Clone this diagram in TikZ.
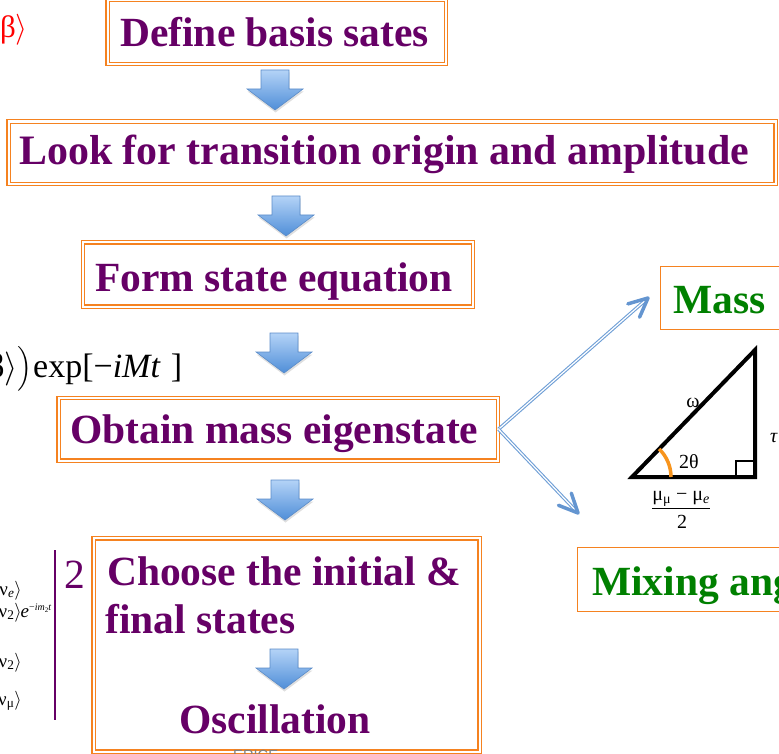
\documentclass[tikz,border=0pt]{standalone}
\usepackage{fix-cm}
\usepackage{amsmath}
\usepackage{fontspec}
\setmainfont{Liberation Serif}
\newfontfamily\ericesans{Liberation Sans}
\usetikzlibrary{calc,shadows}
\definecolor{purp}{HTML}{660066}
\definecolor{boxorange}{HTML}{F58220}
\definecolor{mgreen}{HTML}{008000}
\definecolor{arrtop}{HTML}{B4D3F7}
\definecolor{arrbot}{HTML}{4F8ED8}
\definecolor{arredge}{HTML}{5B8CC8}
\definecolor{connblue}{HTML}{6F9FD6}
\definecolor{chevblue}{HTML}{6495D0}
\definecolor{arcorange}{HTML}{F7941D}
\begin{document}
\begin{tikzpicture}[x=1pt,y=-1pt,
  obox/.style={draw=boxorange, line width=1.2pt, double=white, double distance=2.2pt, fill=white, anchor=north west, inner sep=0pt},
  sbox/.style={draw=boxorange, line width=1.3pt, fill=white, anchor=north west, inner sep=0pt},
  btxt/.style={font=\fontsize{41.5}{48}\selectfont\bfseries, text=purp, inner sep=0pt, anchor=base west},
  gtxt/.style={font=\fontsize{41.5}{48}\selectfont\bfseries, text=mgreen, inner sep=0pt, anchor=base west},
  conn/.style={draw=connblue, line width=1.1pt, double=white, double distance=1.2pt, shorten >=2pt},
  chev/.style={draw=chevblue, line width=3.5pt, line cap=round, line join=round},
  trilbl/.style={font=\fontsize{20}{24}\selectfont, inner sep=0pt},
  eqtxt/.style={font=\fontsize{19}{23}\selectfont, inner sep=0pt, anchor=base east},
  blockarrow/.pic={
    \path[drop shadow={opacity=0.25, shadow xshift=0.5pt, shadow yshift=-2.5pt},
          top color=arrtop, bottom color=arrbot, draw=arredge, line width=0.6pt]
      (-14,0) -- (14,0) -- (14,19) -- (28,19) -- (0,40) -- (-28,19) -- (-14,19) -- cycle;
  }
]
\useasboundingbox (0,0) rectangle (779,754);

% ---- main flow boxes
\node[obox, minimum width=338.5, minimum height=64.5] (b1) at (107,-1) {};
\node[obox, minimum width=767, minimum height=62.3] (b2) at (8,121) {};
\node[obox, minimum width=390, minimum height=64.3] (b3) at (82.5,241.7) {};
\node[obox, minimum width=439.3, minimum height=62.7] (b4) at (58,397.3) {};
\node[obox, minimum width=386, minimum height=213.3] (b5) at (93,537.7) {};
\node[sbox, minimum width=140, minimum height=63] (bm) at (660,266) {};
\node[sbox, minimum width=220, minimum height=64] (bx) at (577,547) {};

% ---- box texts
\node[btxt] (t1) at (120,47) {Define basis sates};
\node[btxt, font=\fontsize{41.9}{48}\selectfont\bfseries] (t2) at (19,165) {Look for transition origin and amplitude};
\node[btxt] (t3) at (95,291) {Form state equation};
\node[btxt] (t4) at (70,443) {Obtain mass eigenstate};
\node[btxt] (t5a) at (107,585) {Choose the initial \&};
\node[btxt] (t5b) at (105,633) {final states};
\node[btxt] (t6) at (179,733) {Oscillation};
\node[gtxt] (tm) at (673,313) {Mass};
\node[gtxt] (tx) at (592,595) {Mixing angle};

% ---- block arrows
\pic at (275,70) {blockarrow};
\pic at (286,196) {blockarrow};
\pic at (284,333) {blockarrow};
\pic at (285,480) {blockarrow};
\pic at (284,649) {blockarrow};

% ---- branching connectors
\coordinate (mt) at (648,298);
\coordinate (xt) at (578,513);
\draw[conn] (b4.east) -- (mt);
\draw[conn] (b4.east) -- (xt);
\draw[chev] ($(mt)!21pt!25:(b4.east)$) -- (mt) -- ($(mt)!21pt!-25:(b4.east)$);
\draw[chev] ($(xt)!21pt!25:(b4.east)$) -- (xt) -- ($(xt)!21pt!-25:(b4.east)$);

% ---- triangle
\coordinate (A) at (632,477);
\coordinate (B) at (755,477);
\coordinate (C) at (755,350);
\draw[line width=1.4pt] (736,477) |- (755,461);
\draw[line width=4pt, line join=miter] (A) -- (B) -- (C) -- cycle;
\draw[arcorange, line width=3.5pt] ($(A)+(39,0)$) arc[start angle=0, end angle=46, radius=39pt];
\node[trilbl, anchor=base] (omega) at (693,407) {ω};
\node[trilbl, anchor=base] (twoth) at (689,468) {2θ};
\node[trilbl, anchor=base west] (tau) at (770,442) {\textit{τ}};
\node[trilbl, anchor=base] (num) at (681,500) {μ\textsubscript{μ} − μ\textsubscript{\textit{e}}};
\draw[line width=0.8pt] (652,508) -- (710,508);
\node[trilbl, anchor=base] (den) at (682,528) {2};

% ---- left-hand formula fragments
\node[text=red, font=\fontsize{31}{36}\selectfont, anchor=base west, inner sep=0pt] (beta) at (0,38) {β$\rangle$};
\node[font=\fontsize{34}{40}\selectfont, anchor=base east, inner sep=0pt] (exprl) at (33,377) {β$\rangle\big)$};
\node[font=\fontsize{34}{40}\selectfont, anchor=base west, inner sep=0pt] (exprr) at (33,377) {exp[−\textit{iMt}\hspace{0.3em}]};
\node[eqtxt] (r1) at (22,595) {ν\textsubscript{\textit{e}}$\rangle$};
\node[eqtxt] (r2) at (22,617) {ν\textsubscript{2}$\rangle$};
\node[font=\fontsize{19}{23}\selectfont, inner sep=0pt, anchor=base west] (r2e) at (20.5,617) {\textit{e}\raisebox{7pt}{\fontsize{10}{12}\selectfont −\textit{im}\raisebox{-2pt}{\fontsize{7}{8}\selectfont 2}\textit{t}}};
\node[eqtxt] (r3) at (22,667) {ν\textsubscript{2}$\rangle$};
\node[eqtxt] (r4) at (22,705) {ν\textsubscript{μ}$\rangle$};
\draw[purp, line width=2pt] (55,550) -- (55,720);
\node[font=\fontsize{41.5}{48}\selectfont, text=purp, anchor=base west, inner sep=0pt] (sq) at (64,588) {2};

% ---- footer
\node[font=\ericesans\fontsize{14.7}{17}\selectfont, text=gray, anchor=base west, inner sep=0pt] (erice) at (233,760) {ERICE};
\end{tikzpicture}
\end{document}
